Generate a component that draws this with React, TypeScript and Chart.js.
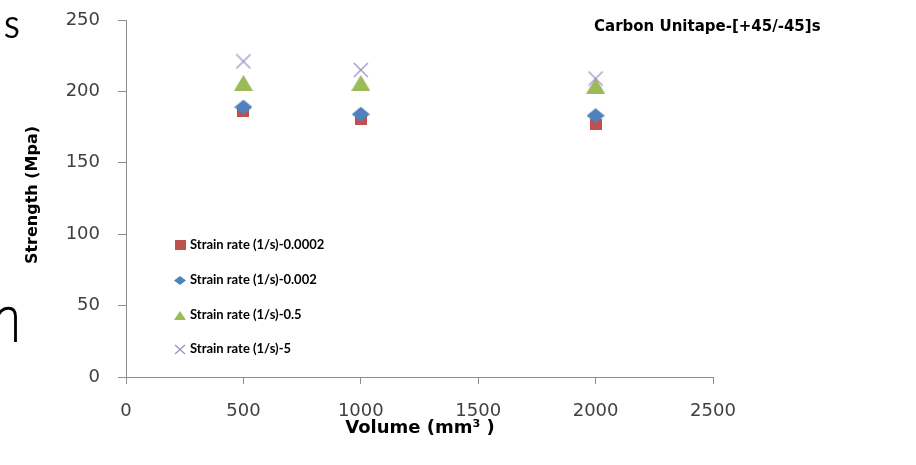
import React, { useEffect, useRef } from 'react';
import { Chart, registerables } from 'chart.js';

Chart.register(...registerables);

// Specimen volumes (mm³) and measured strength (MPa) per strain rate
const volumes = [500, 1000, 2000];
const rate00002 = [186, 180, 177];
const rate0002 = [189, 184, 183];
const rate05 = [206, 206, 204];
const rate5 = [221, 215, 209];

const seriesLabels = [
  'Strain rate (1/s)-0.0002',
  'Strain rate (1/s)-0.002',
  'Strain rate (1/s)-0.5',
  'Strain rate (1/s)-5',
];

const xTicks = [0, 500, 1000, 1500, 2000, 2500];
const yTicks = [0, 50, 100, 150, 200, 250];

const chartTitle = 'Carbon Unitape-[+45/-45]s';
const xTitle = 'Volume (mm³ )';
const yTitle = 'Strength (Mpa)';

type MarkerKind = 'square' | 'diamond' | 'triangle' | 'cross';

function makeMarker(kind: MarkerKind, w: number, h: number, color: string): HTMLCanvasElement {
  const c = document.createElement('canvas');
  c.width = w;
  c.height = h;
  const ctx = c.getContext('2d')!;
  ctx.fillStyle = color;
  ctx.strokeStyle = color;
  ctx.beginPath();
  if (kind === 'square') {
    ctx.rect(0, 0, w, h);
    ctx.fill();
  } else if (kind === 'diamond') {
    ctx.moveTo(w / 2, 0);
    ctx.lineTo(w, h / 2);
    ctx.lineTo(w / 2, h);
    ctx.lineTo(0, h / 2);
    ctx.closePath();
    ctx.fill();
  } else if (kind === 'triangle') {
    ctx.moveTo(w / 2, 0);
    ctx.lineTo(w, h);
    ctx.lineTo(0, h);
    ctx.closePath();
    ctx.fill();
  } else {
    ctx.lineWidth = 1.2;
    ctx.moveTo(1, 1);
    ctx.lineTo(w - 1, h - 1);
    ctx.moveTo(w - 1, 1);
    ctx.lineTo(1, h - 1);
    ctx.stroke();
  }
  return c;
}

const RED = '#C0504D';
const BLUE = '#4F81BD';
const GREEN = '#9BBB59';
const PURPLE = '#9E8CC6';

export default function App() {
  const ref = useRef<HTMLCanvasElement | null>(null);

  useEffect(() => {
    if (!ref.current) return;

    const markers = [
      makeMarker('square', 12, 11, RED),
      makeMarker('diamond', 18, 15, BLUE),
      makeMarker('triangle', 19, 16, GREEN),
      makeMarker('cross', 16, 16, PURPLE),
    ];
    const legendMarkers = [
      makeMarker('square', 11, 10, RED),
      makeMarker('diamond', 12, 9, BLUE),
      makeMarker('triangle', 12, 9, GREEN),
      makeMarker('cross', 12, 11, PURPLE),
    ];

    const series = [rate00002, rate0002, rate05, rate5];
    const drawOrder = [2, 1, 4, 3];

    const overlay = {
      id: 'overlay',
      afterDraw(chart: Chart) {
        const ctx = chart.ctx;
        ctx.save();

        // chart title
        ctx.fillStyle = '#000000';
        ctx.font = 'bold 15px "DejaVu Sans"';
        ctx.textAlign = 'left';
        ctx.textBaseline = 'middle';
        ctx.fillText(chartTitle, 594, 27);

        // axis titles
        ctx.font = 'bold 18px "DejaVu Sans"';
        ctx.textAlign = 'center';
        ctx.fillText(xTitle, 420, 428);

        ctx.save();
        ctx.translate(33, 195);
        ctx.rotate(-Math.PI / 2);
        ctx.font = 'bold 16px "DejaVu Sans"';
        ctx.fillText(yTitle, 0, 0);
        ctx.restore();

        // legend inside the plot area
        const rows = [245, 280, 315, 349];
        ctx.font = 'bold 13px Lato';
        ctx.textAlign = 'left';
        ctx.fillStyle = '#000000';
        rows.forEach((y, i) => {
          const m = legendMarkers[i];
          ctx.drawImage(m, Math.round(180 - m.width / 2), Math.round(y - m.height / 2));
          ctx.fillText(seriesLabels[i], 190, y);
        });

        // letters cut off at the left edge
        ctx.font = '29px Lato';
        ctx.textBaseline = 'alphabetic';
        ctx.fillText('S', 4, 38);

        ctx.beginPath();
        ctx.lineWidth = 2.8;
        ctx.strokeStyle = '#000000';
        ctx.moveTo(-1, 314);
        ctx.bezierCurveTo(3, 307, 15, 305, 15.5, 316);
        ctx.lineTo(15.5, 342);
        ctx.stroke();

        ctx.restore();
      },
    };

    const chart = new Chart(ref.current, {
      type: 'scatter',
      data: {
        datasets: series.map((vals, i) => ({
          label: seriesLabels[i],
          data: volumes.map((v, j) => ({ x: v, y: vals[j] })),
          pointStyle: markers[i],
          order: drawOrder[i],
          showLine: false,
        })),
      },
      options: {
        responsive: false,
        animation: false,
        layout: { padding: { top: 20, right: 203, left: 0, bottom: 0 } },
        plugins: {
          legend: { display: false },
          tooltip: { enabled: false },
          title: { display: false },
        },
        scales: {
          x: {
            type: 'linear',
            min: xTicks[0],
            max: xTicks[xTicks.length - 1],
            afterBuildTicks: (scale: any) => {
              scale.ticks = xTicks.map((v) => ({ value: v }));
            },
            afterFit: (scale: any) => {
              scale.height = 88;
              scale.paddingLeft = 0;
              scale.paddingRight = 0;
            },
            ticks: {
              color: '#404040',
              font: { family: '"DejaVu Sans"', size: 18 },
              padding: 17,
              maxRotation: 0,
              callback: (v: any) => String(v),
            },
            grid: {
              drawOnChartArea: false,
              drawTicks: true,
              tickLength: 7,
              color: '#8c8c8c',
            },
            border: { color: '#8c8c8c' },
          },
          y: {
            type: 'linear',
            min: yTicks[0],
            max: yTicks[yTicks.length - 1],
            afterBuildTicks: (scale: any) => {
              scale.ticks = yTicks.map((v) => ({ value: v }));
            },
            afterFit: (scale: any) => {
              scale.width = 126;
              scale.paddingTop = 0;
              scale.paddingBottom = 0;
            },
            ticks: {
              color: '#404040',
              font: { family: '"DejaVu Sans"', size: 18 },
              padding: 18,
              callback: (v: any) => String(v),
            },
            grid: {
              drawOnChartArea: false,
              drawTicks: true,
              tickLength: 8,
              color: '#8c8c8c',
            },
            border: { color: '#8c8c8c' },
          },
        },
      },
      plugins: [overlay],
    });

    return () => chart.destroy();
  }, []);

  return (
    <div style={{ position: 'absolute', left: 0, top: 0, width: 916, height: 465, background: '#ffffff' }}>
      <canvas ref={ref} width={916} height={465} style={{ width: 916, height: 465, display: 'block' }} />
    </div>
  );
}
